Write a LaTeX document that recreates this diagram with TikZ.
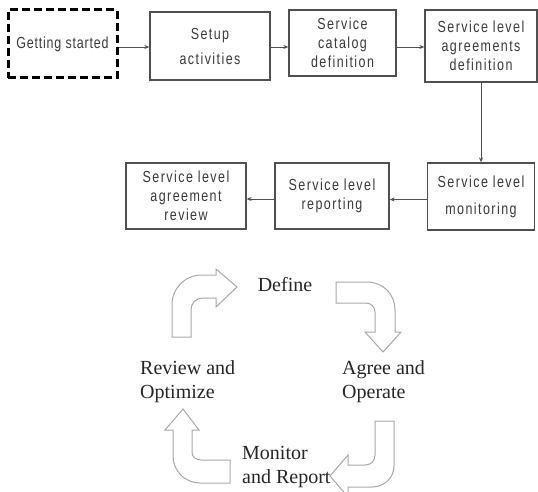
\documentclass[tikz,border=0pt]{standalone}
\usepackage{fontspec}
\setmainfont{Liberation Serif}
\newfontfamily\boxfont[FakeStretch=0.78,LetterSpace=9]{Liberation Sans}
\newfontfamily\startfont[FakeStretch=0.78,LetterSpace=5]{Liberation Sans}
\usetikzlibrary{arrows.meta}
\definecolor{boxline}{HTML}{505050}
\definecolor{boxtext}{HTML}{3A3A3A}
\definecolor{cyc}{HTML}{A8A8A8}
\begin{document}
\begin{tikzpicture}[x=1pt,y=-1pt,
  stepbox/.style={draw=boxline, line width=1.3pt, fill=white, inner sep=0pt,
    align=center, text=boxtext, font=\boxfont\fontsize{16}{19}\selectfont},
  startbox/.style={draw=black, line width=3pt, dash pattern=on 8pt off 4pt,
    inner sep=0pt, align=center, text=boxtext, font=\startfont\fontsize{16}{19}\selectfont},
  conn/.style={draw=boxline, line width=0.8pt, -{Stealth[length=5pt,width=4pt]}},
  cycarrow/.style={draw=cyc, line width=1pt, fill=white},
  cyctext/.style={font=\fontsize{20}{24}\selectfont, text=black!85, align=left, inner sep=0pt}
]
\useasboundingbox (0,0) rectangle (538,492);

% top row
\node[startbox, minimum width=109pt, minimum height=68pt] (gs) at (62.5,44) {Getting started};
\node[stepbox, minimum width=120pt, minimum height=68pt, font=\boxfont\fontsize{16}{25}\selectfont] (setup) at (210,46) {\vphantom{Sp}Setup\\activities};
\node[stepbox, minimum width=107pt, minimum height=66pt] (cat) at (342.5,43) {Service\\catalog\\definition};
\node[stepbox, minimum width=112pt, minimum height=72pt] (agr) at (481,46) {Service level\\agreements\\definition};

% second row
\node[stepbox, minimum width=107pt, minimum height=67pt, font=\boxfont\fontsize{16}{27}\selectfont] (mon) at (481,196.5) {Service level\\monitoring};
\node[stepbox, minimum width=114pt, minimum height=66pt] (rep) at (332,196) {Service level\\reporting};
\node[stepbox, minimum width=120pt, minimum height=66pt] (rev) at (186,196) {Service level\\agreement\\review};

% connectors
\draw[conn] ([yshift=-3pt]gs.east) -- ([yshift=-3pt]gs.east -| setup.west);
\draw[conn] ([yshift=-1pt]setup.east) -- ([yshift=-1pt]setup.east -| cat.west);
\draw[conn] ([yshift=-4pt]cat.east) -- ([yshift=-4pt]cat.east -| agr.west);
\draw[conn] (agr.south) -- (agr.south |- mon.north);
\draw[conn] ([yshift=-3pt]mon.west) -- ([yshift=-3pt]mon.west -| rep.east);
\draw[conn] ([yshift=-3pt]rep.west) -- ([yshift=-3pt]rep.west -| rev.east);

% cycle arrows
\draw[cycarrow] (172,337) -- (172,305) .. controls (172,288) and (185,275) .. (202,275)
  -- (216,275) -- (216,269) -- (237,287) -- (216,307) -- (216,298) -- (203,298)
  .. controls (196,298) and (191,303) .. (191,310) -- (191,337) -- cycle;
\draw[cycarrow] (336,282) -- (367,282) .. controls (383,282) and (395,294) .. (395,310)
  -- (395,332) -- (401,332) -- (383,352) -- (365,332) -- (375,332) -- (375,312)
  .. controls (375,307) and (371,303) .. (366,303) -- (336,303) -- cycle;
\draw[cycarrow] (375,421) -- (394,421) -- (394,466) .. controls (394,478) and (384,487) .. (372,487)
  -- (348,487) -- (348,497) -- (330,476) -- (348,455) -- (348,465) -- (365,465)
  .. controls (371,465) and (375,461) .. (375,455) -- cycle;
\draw[cycarrow] (183,409) -- (199,430) -- (192,430) -- (192,452)
  .. controls (192,457) and (196,460) .. (201,460) -- (230,460) -- (230,483) -- (200,483)
  .. controls (185,483) and (173,471) .. (173,456) -- (173,430) -- (165,430) -- cycle;

% cycle texts
\node[cyctext, anchor=base] (define) at (285,291) {Define};
\node[cyctext, anchor=base west] (review) at (140,398) {Review and\\Optimize};
\node[cyctext, anchor=base west] (agree) at (342,398) {Agree and\\Operate};
\node[cyctext, anchor=base west] (monitor) at (242,483) {Monitor\\and Report};
\end{tikzpicture}
\end{document}
